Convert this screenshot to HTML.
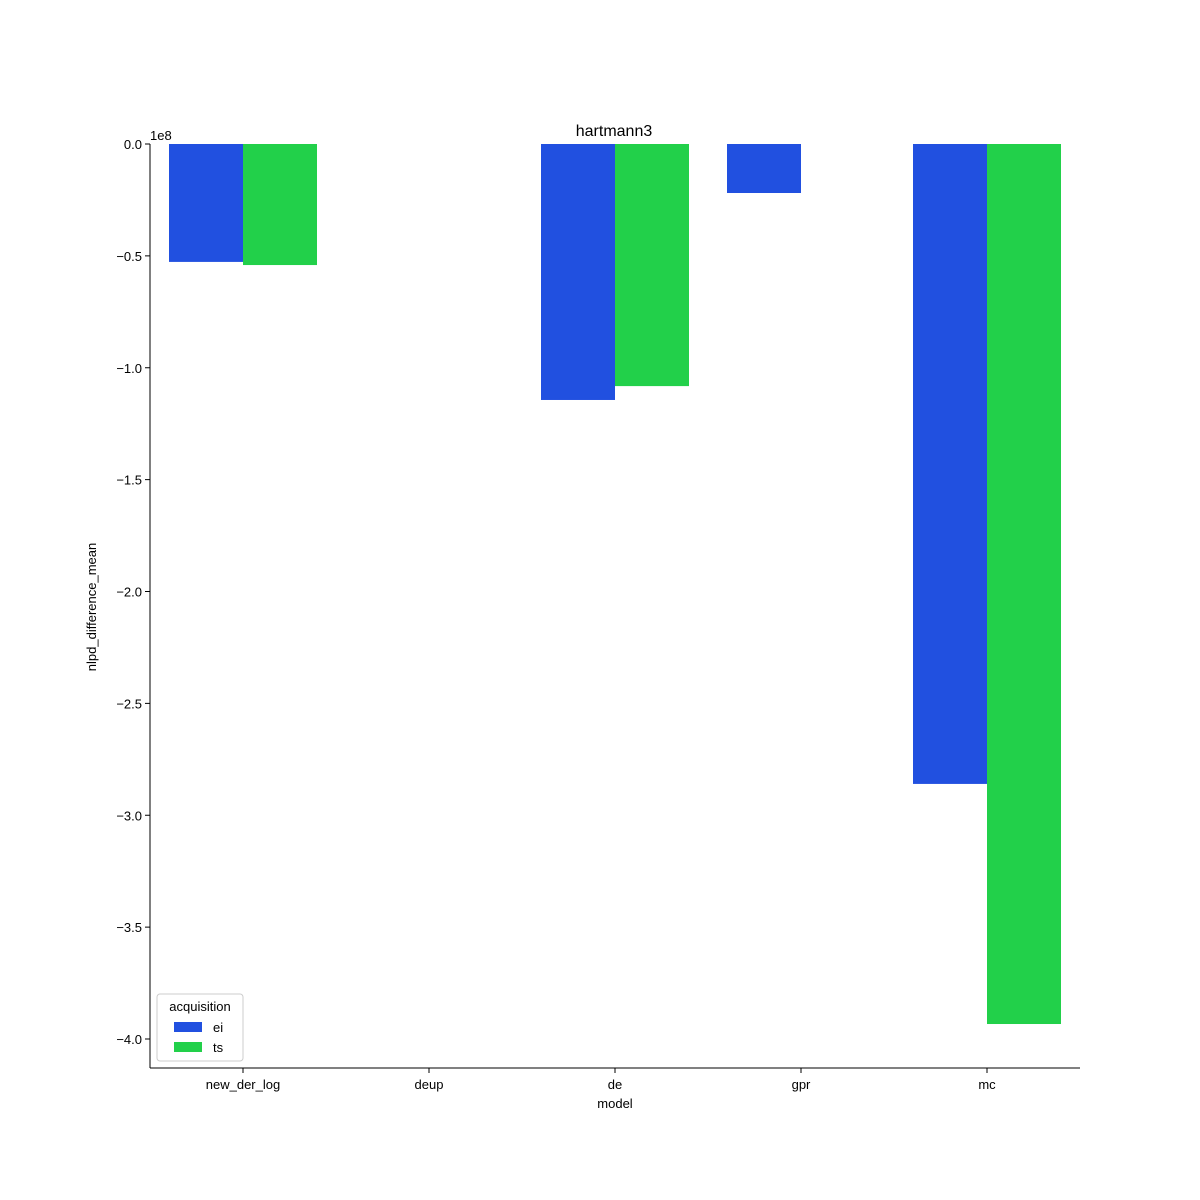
<!DOCTYPE html>
<html><head><meta charset="utf-8"><style>
html,body{margin:0;padding:0;background:#fff;width:1200px;height:1200px;overflow:hidden;}
svg{display:block;}
svg text{font-family:"Liberation Sans","DejaVu Sans",sans-serif;fill:#000;}
</style></head><body>
<svg id="chart" width="1200" height="1200" xmlns="http://www.w3.org/2000/svg">
<rect width="1200" height="1200" fill="#fff"/>
<g id="bars"></g>
<g id="axes"></g>
<text x="614" y="136" font-size="16" text-anchor="middle">hartmann3</text>
<text x="150" y="140" font-size="13">1e8</text>
<text x="615" y="1108" font-size="13" text-anchor="middle">model</text>
<text transform="translate(96,607) rotate(-90)" font-size="13" text-anchor="middle">nlpd_difference_mean</text>
<g>
<rect x="157" y="994" width="86" height="67" rx="3" fill="#fff" stroke="#ccc"/>
<text x="200" y="1011" font-size="13" text-anchor="middle">acquisition</text>
<rect x="174" y="1022" width="28" height="10" fill="#2150e0"/>
<text x="213" y="1032" font-size="13">ei</text>
<rect x="174" y="1042" width="28" height="10" fill="#22d04a"/>
<text x="213" y="1052" font-size="13">ts</text>
</g>
</svg>
<script>
const categories = ["new_der_log","deup","de","gpr","mc"];
const eiValues = [-0.527, null, -1.144, -0.219, -2.860];
const tsValues = [-0.541, null, -1.082, null, -3.933];
const yTicks = [0,-0.5,-1.0,-1.5,-2.0,-2.5,-3.0,-3.5,-4.0];
const yTickLabels = ["0.0","\u22120.5","\u22121.0","\u22121.5","\u22122.0","\u22122.5","\u22123.0","\u22123.5","\u22124.0"];

const L=150,R=1080,T=144,B=1068;
const yMin=-4.1296;
function y(v){return T+(0-v)/(0-yMin)*(B-T);}
const band=(R-L)/categories.length;
function xc(i){return L+band*(i+0.5);}
const bw=74;
const ns="http://www.w3.org/2000/svg";
const bars=document.getElementById('bars');
const axes=document.getElementById('axes');
function mk(tag,attrs,parent){const e=document.createElementNS(ns,tag);for(const k in attrs)e.setAttribute(k,attrs[k]);parent.appendChild(e);return e;}
categories.forEach((c,i)=>{
  [[eiValues,'#2150e0',-bw,'ei'],[tsValues,'#22d04a',0,'ts']].forEach(([arr,col,off,nm])=>{
    const v=arr[i]; if(v===null)return;
    const r=mk('rect',{x:xc(i)+off,y:y(0),width:bw,height:y(v)-y(0),fill:col},bars);
    
    
  });
  const t=mk('line',{x1:xc(i),x2:xc(i),y1:B,y2:B+5,stroke:'#000'},axes);
  
  
  const tx=mk('text',{x:xc(i),y:B+21,'font-size':13,'text-anchor':'middle'},axes);
  tx.textContent=c;
  
  
});
yTicks.forEach((v,i)=>{
  const t=mk('line',{x1:L-5,x2:L,y1:y(v),y2:y(v),stroke:'#000'},axes);
  
  
  const tx=mk('text',{x:L-8,y:y(v)+5,'font-size':13,'text-anchor':'end'},axes);
  tx.textContent=yTickLabels[i];
  
  
});
const ly=mk('line',{x1:L,x2:L,y1:T,y2:B,stroke:'#000'},axes);


const lx=mk('line',{x1:L,x2:R,y1:B,y2:B,stroke:'#000'},axes);


</script>
</body></html>
